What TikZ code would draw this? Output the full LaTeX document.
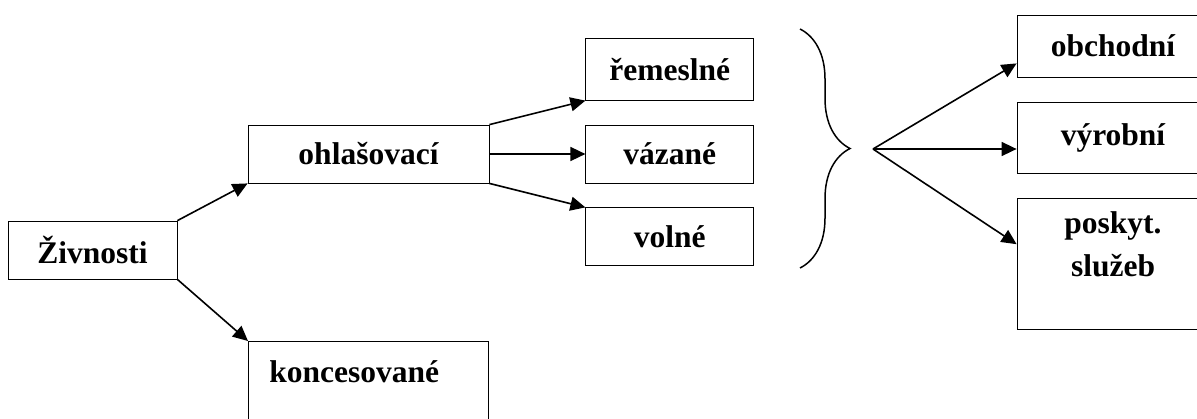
\documentclass[tikz,border=0pt]{standalone}
\usepackage{fontspec}
\setmainfont{Liberation Serif}
\usepackage{tikz}
\usetikzlibrary{arrows.meta, decorations.pathreplacing, positioning}
\tikzset{
	line width = 1pt,
	>={Triangle[length=7.5pt,width=7pt]},
	font = \bfseries\fontsize{15.75}{21.5}\selectfont,
	box/.style={
		draw,
		rectangle,
		inner sep=0pt,
		minimum height=29pt
	},
	edge/.style={
		draw,
		->,
		line width=.8pt
	}
}

\begin{document}
\begin{tikzpicture}[x=.5pt, y=-.5pt]
	\useasboundingbox (0,0) rectangle (1197,418);
	\clip (0,0) rectangle (1197,418);
	\node[box, minimum width=84.5pt] (zivnosti) at (92.5,250) {Živnosti};
	\node[box, minimum width=120.5pt] (ohlas) at (368.5,154) {ohlašovací};
	\node[box, anchor=north west, text width=99pt, align=left, inner xsep=10.5pt,
		text height=20.5pt, text depth=40pt] (konces) at (248,341) {koncesované};
	\node[box, minimum width=84pt, right=48pt of ohlas] (vazane) {vázané};
	\node[box, minimum width=84pt, minimum height=31pt, above=12pt of vazane] (remes) {řemeslné};
	\node[box, minimum width=84pt, below=12pt of vazane] (volne) {volné};
	\node[box, minimum width=96pt, minimum height=31pt] (obchod) at (1113,46) {obchodní};
	\node[box, minimum width=96pt, minimum height=35.5pt, below=12.5pt of obchod] (vyrob) {výrobní};
	\node[box, minimum width=96pt, align=center, text height=39pt, text depth=26.5pt,
		below=12pt of vyrob] (posk) {poskyt.\\služeb};
	% brace and fan
	\draw[line width=.75pt, decorate, decoration={brace, amplitude=25pt}] (800,29) -- (800,268);
	\coordinate (fan) at (873,149);
	\path (zivnosti.north east) edge[edge] (ohlas.south west)
		(zivnosti.south east) edge[edge] (konces.north west)
		(ohlas.north east) edge[edge] (remes.south west)
		(ohlas.east) edge[edge] (vazane.west)
		(ohlas.south east) edge[edge] (volne.north west);
	\path (fan) edge[edge] ([yshift=7pt]obchod.south west)
		(fan) edge[edge] (fan -| vyrob.west)
		(fan) edge[edge] ([yshift=-23pt]posk.north west);
\end{tikzpicture}
\end{document}
